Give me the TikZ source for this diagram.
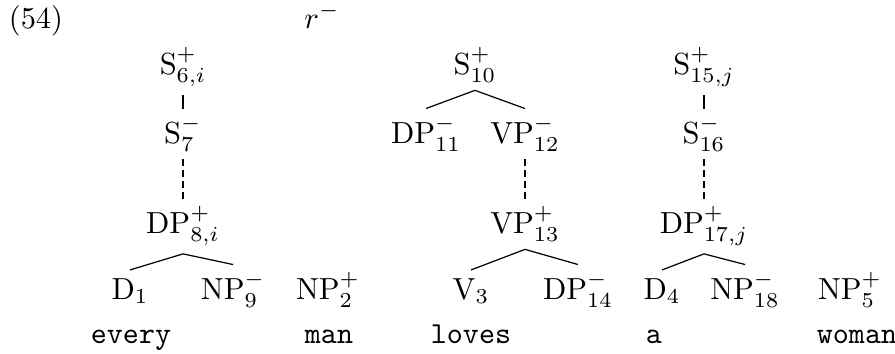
\documentclass[tikz,border=0pt]{standalone}
\usepackage{amsmath}
\usepackage{tikz}
\usetikzlibrary{positioning}

\begin{document}
\begin{tikzpicture}[x=0.328pt, y=-0.328pt,
		lbl/.style={anchor=base, inner sep=2.5pt},
		wrd/.style={anchor=base, inner sep=2.5pt, font=\ttfamily},
		edge/.style={line width=0.4pt},
		dots/.style={line width=0.4pt, dash pattern=on 2.2pt off 1.4pt}]
		\useasboundingbox (0,0) rectangle (895,354);
		% example number and r
		\node[lbl] (ex) at (36,28) {(54)};
		\node[lbl] (r) at (322,28) {$r^{-}$};
		% first tree: every
		\node[lbl] (s6) at (183,74) {S$^{+}_{6,i}$};
		\node[lbl] (s7) at (183,143) {S$^{-}_{7}$};
		\node[lbl] (dp8) at (183,233) {DP$^{+}_{8,i}$};
		\node[lbl] (d1) at (130,299) {D$_{1}$};
		\node[lbl] (np9) at (233,299) {NP$^{-}_{9}$};
		\node[lbl] (np2) at (328,299) {NP$^{+}_{2}$};
		% second tree: loves
		\node[lbl] (s10) at (475,74) {S$^{+}_{10}$};
		\node[lbl] (dp11) at (426,143) {DP$^{-}_{11}$};
		\node[lbl] (vp12) at (525,143) {VP$^{-}_{12}$};
		\node[lbl] (vp13) at (525,233) {VP$^{+}_{13}$};
		\node[lbl] (v3) at (471,299) {V$_{3}$};
		\node[lbl] (dp14) at (578,299) {DP$^{-}_{14}$};
		% third tree: a
		\node[lbl] (s15) at (704,74) {S$^{+}_{15,j}$};
		\node[lbl] (s16) at (704,143) {S$^{-}_{16}$};
		\node[lbl] (dp17) at (704,233) {DP$^{+}_{17,j}$};
		\node[lbl] (d4) at (662,299) {D$_{4}$};
		\node[lbl] (np18) at (745,299) {NP$^{-}_{18}$};
		\node[lbl] (np5) at (850,299) {NP$^{+}_{5}$};
		% words
		\node[wrd] (w1) at (131,343) {every};
		\node[wrd] (w2) at (329,343) {man};
		\node[wrd] (w3) at (471,343) {loves};
		\node[wrd] (w4) at (654,343) {a};
		\node[wrd] (w5) at (857,343) {woman};
		% edges
		\draw[edge] (s6.south) -- (s7.north);
		\draw[dots] (s7.south) -- (dp8.north);
		\draw[edge] (dp8.south) -- (d1.north);
		\draw[edge] (dp8.south) -- (np9.north);
		\draw[edge] (s10.south) -- (dp11.north);
		\draw[edge] (s10.south) -- (vp12.north);
		\draw[dots] (vp12.south) -- (vp13.north);
		\draw[edge] (vp13.south) -- (v3.north);
		\draw[edge] (vp13.south) -- (dp14.north);
		\draw[edge] (s15.south) -- (s16.north);
		\draw[dots] (s16.south) -- (dp17.north);
		\draw[edge] (dp17.south) -- (d4.north);
		\draw[edge] (dp17.south) -- (np18.north);
\end{tikzpicture}
\end{document}
